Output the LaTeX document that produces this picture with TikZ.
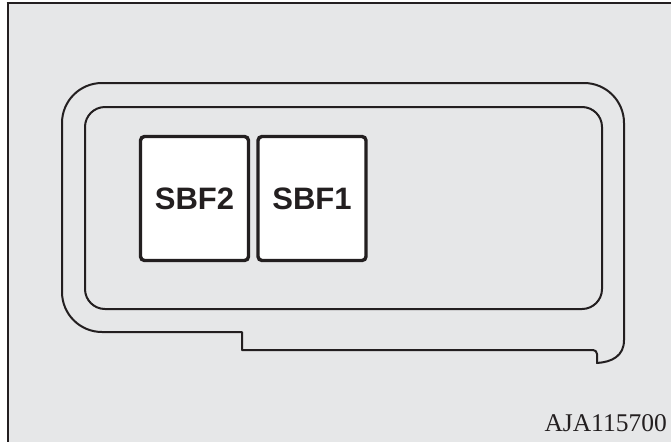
\documentclass[tikz,border=0pt]{standalone}
\usepackage{fontspec}
\setmainfont{Liberation Serif}
\newfontfamily\hvfont{Liberation Sans}
\definecolor{bggray}{HTML}{E6E7E8}
\definecolor{ink}{HTML}{231F20}
\tikzset{
  outline/.style={draw=ink, line width=2pt, line join=round},
  fusebox/.style={draw=ink, fill=white, line width=3.4pt, rounded corners=4pt,
    minimum width=108pt, minimum height=124pt, inner sep=0pt,
    font=\hvfont\bfseries\fontsize{31}{34}\selectfont, text=ink},
  codelabel/.style={font=\fontsize{25.5}{27}\selectfont, text=ink, inner sep=0pt}
}
\begin{document}
\begin{tikzpicture}[x=1pt,y=-1pt]
\useasboundingbox (0,0) rectangle (671,442);
\fill[white] (0,0) rectangle (671,442);
\fill[bggray] (8,3) rectangle (671,442);
\draw[ink, line width=2pt] (7.7,2) -- (7.7,442);
\draw[ink, line width=2pt] (6.7,3) -- (671,3);
% outer housing outline
\draw[outline] (242,350) -- (242,332) -- (102,332)
  arc[start angle=90, end angle=180, radius=40] -- (62,123)
  arc[start angle=180, end angle=270, radius=40] -- (584,83)
  arc[start angle=270, end angle=360, radius=40] -- (624,340)
  .. controls (624,356) and (612,362) .. (597,363) -- (597,354)
  arc[start angle=0, end angle=-90, radius=4] -- cycle;
% inner outline
\draw[outline, rounded corners=20pt] (85,107) rectangle (602,309);
% fuses
\node[fusebox] (sbf2) at (194.5,198.5) {SBF2};
\node[fusebox] (sbf1) at (312,198.5) {SBF1};
\node[codelabel, anchor=base east] (code) at (667,431) {AJA115700};
\end{tikzpicture}
\end{document}
